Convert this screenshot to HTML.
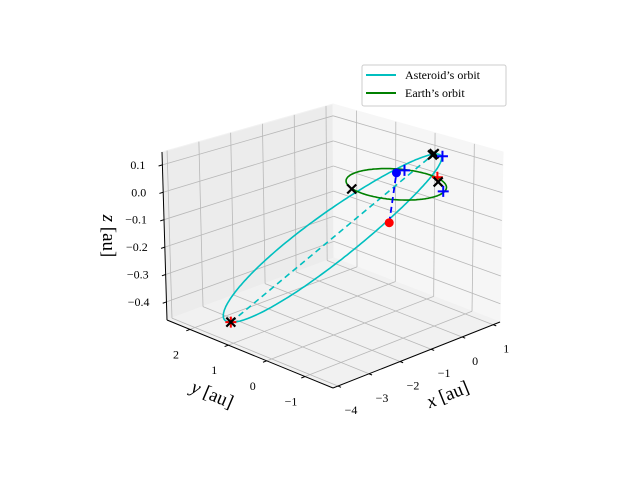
<!DOCTYPE html>
<html><head><meta charset="utf-8">
<style>
html,body{margin:0;padding:0;background:#fff;}
svg{display:block;font-family:"Liberation Serif","DejaVu Serif",serif;}
</style></head>
<body>
<svg id="chart" width="640" height="480" viewBox="0 0 640 480" xmlns="http://www.w3.org/2000/svg">
<g id="panes"></g>
<g id="grid"></g>
<g id="axes"></g>
<g id="series"></g>
<g id="labels"></g>
<text x="450" y="400" font-size="19" text-anchor="middle" transform="rotate(-22 450 400)"><tspan font-style="italic">x</tspan> [au]</text>
<text x="210" y="400" font-size="19" text-anchor="middle" transform="rotate(23 210 400)"><tspan font-style="italic">y</tspan> [au]</text>
<text x="103" y="236" font-size="19" text-anchor="middle" transform="rotate(90 103 236)"><tspan font-style="italic">z</tspan> [au]</text>
<g>
<rect x="362" y="65" width="144" height="41" rx="2" fill="#fff" fill-opacity="0.8" stroke="#ccc" stroke-width="1"/>
<line x1="366" y1="75" x2="396" y2="75" stroke="#00bfbf" stroke-width="2"/>
<text x="405" y="79" font-size="12">Asteroid’s orbit</text>
<line x1="366" y1="93" x2="396" y2="93" stroke="#008000" stroke-width="2"/>
<text x="405" y="97" font-size="12">Earth’s orbit</text>
</g>
</svg>
<script>
// axis ranges
const xRange = [-4.16, 1.22];
const yRange = [-1.73, 2.6];
const zRange = [-0.466, 0.147];
// tick values
const xTicks = [-4, -3, -2, -1, 0, 1];
const yTicks = [-1, 0, 1, 2];
const zTicks = [-0.4, -0.3, -0.2, -0.1, 0.0, 0.1];
const xTickLabels = ["−4", "−3", "−2", "−1", "0", "1"];
const yTickLabels = ["−1", "0", "1", "2"];
const zTickLabels = ["−0.4", "−0.3", "−0.2", "−0.1", "0.0", "0.1"];
// asteroid orbit elements
const astSemiMajor = [2.32];
const astEcc = [0.638];
const astPeriDir = [0.913, -0.392, 0.116];
const astMinorDir = [0.394, 0.919, -0.066];
// earth orbit
const earthRadius = [1.0];
// markers (3D positions)
const blackXPts = [[-3.47, 1.49, -0.44], [0.745, -0.32, 0.095], [0.78, -0.335, 0.099], [-0.942, 0.38, 0], [0.771, -0.45, 0]];
const redXPts = [[-3.47, 1.49, -0.44], [0.72, -0.47, 0.02]];
const bluePlusPts = [[0.9, -0.45, 0.09], [1.06, -0.35, -0.05], [0.83, 0.46, 0]];
const redDotPt = [0, 0.178, -0.15];
const blueDotPt = [0.58, 0.464, 0];

// box corners on screen: C[u][v][w]
const C = {
 "000":[333,388],"100":[500,322],"010":[167,320],"110":[334,258],
 "001":[333,204],"101":[503,152],"011":[162,152],"111":[333,104]
};
function P(x,y,z){
  const u=(x-xRange[0])/(xRange[1]-xRange[0]);
  const v=(y-yRange[0])/(yRange[1]-yRange[0]);
  const w=(z-zRange[0])/(zRange[1]-zRange[0]);
  let sx=0,sy=0;
  for(const a of [0,1])for(const b of [0,1])for(const c of [0,1]){
    const wt=(a?u:1-u)*(b?v:1-v)*(c?w:1-w);
    const p=C[""+a+b+c]; sx+=wt*p[0]; sy+=wt*p[1];
  }
  return [sx,sy];
}
const NS="http://www.w3.org/2000/svg";
function mk(parent,tag,attrs){const e=document.createElementNS(NS,tag);for(const k in attrs)e.setAttribute(k,attrs[k]);document.getElementById(parent).appendChild(e);return e;}
function poly(pts){return pts.map(p=>p[0].toFixed(1)+","+p[1].toFixed(1)).join(" ");}
const [x0,x1]=xRange,[y0,y1]=yRange,[z0,z1]=zRange;

let e;
e=mk("panes","polygon",{points:poly([P(x0,y1,z0),P(x1,y1,z0),P(x1,y1,z1),P(x0,y1,z1)]),fill:"#ececec",stroke:"#f2f2f2"});


e=mk("panes","polygon",{points:poly([P(x1,y0,z0),P(x1,y1,z0),P(x1,y1,z1),P(x1,y0,z1)]),fill:"#f6f6f6",stroke:"#f6f6f6"});


e=mk("panes","polygon",{points:poly([P(x0,y0,z0),P(x1,y0,z0),P(x1,y1,z0),P(x0,y1,z0)]),fill:"#f1f1f1",stroke:"#f1f1f1"});



function gl(a,b,name){const p=P(...a),q=P(...b);
  const l=mk("grid","line",{x1:p[0],y1:p[1],x2:q[0],y2:q[1],stroke:"#b8b8b8","stroke-width":0.8});
  
  }
xTicks.forEach(t=>{gl([t,y0,z0],[t,y1,z0],'x-grid-floor');gl([t,y1,z0],[t,y1,z1],'x-grid-wall');});
yTicks.forEach(t=>{gl([x0,t,z0],[x1,t,z0],'y-grid-floor');gl([x1,t,z0],[x1,t,z1],'y-grid-wall');});
zTicks.forEach(t=>{gl([x0,y1,t],[x1,y1,t],'z-grid-left');gl([x1,y1,t],[x1,y0,t],'z-grid-right');});

function al(a,b,name){const p=P(...a),q=P(...b);
  const l=mk("axes","line",{x1:p[0],y1:p[1],x2:q[0],y2:q[1],stroke:"#000","stroke-width":1});
  
  }
al([x0,y0,z0],[x1,y0,z0],'x-axis-line');
al([x0,y0,z0],[x0,y1,z0],'y-axis-line');
al([x0,y1,z0],[x0,y1,z1],'z-axis-line');

function lbl(p,txt,name,anchor){const t=mk("labels","text",{x:p[0].toFixed(1),y:p[1].toFixed(1),"font-size":12,"text-anchor":anchor||"middle"});t.textContent=txt;
  
  }
xTicks.forEach((t,i)=>{const p=P(t,y0,z0);
  al([t,y0,z0],[t,y0-0.08,z0],'x-tick');
  lbl([p[0]+13,p[1]+28],xTickLabels[i],'x-tick-label');});
yTicks.forEach((t,i)=>{const p=P(x0,t,z0);
  al([x0,t,z0],[x0-0.12,t,z0],'y-tick');
  lbl([p[0]-14,p[1]+29],yTickLabels[i],'y-tick-label');});
zTicks.forEach((t,i)=>{const p=P(x0,y1,t);
  al([x0,y1,t],[x0-0.12,y1,t],'z-tick');
  lbl([p[0]-17,p[1]+4],zTickLabels[i],'z-tick-label',"end");});

function norm(v){const n=Math.hypot(...v);return v.map(c=>c/n);}
const pd=norm(astPeriDir);
let qd=astMinorDir.slice();const dp=qd[0]*pd[0]+qd[1]*pd[1]+qd[2]*pd[2];
qd=norm(qd.map((c,i)=>c-dp*pd[i]));
const a=astSemiMajor[0],ec=astEcc[0],b=a*Math.sqrt(1-ec*ec);
let pts=[];
for(let k=0;k<=240;k++){const E=2*Math.PI*k/240;
  const c1=a*(Math.cos(E)-ec),c2=b*Math.sin(E);
  pts.push(P(c1*pd[0]+c2*qd[0],c1*pd[1]+c2*qd[1],c1*pd[2]+c2*qd[2]));}
e=mk("series","polyline",{points:poly(pts),fill:"none",stroke:"#00bfbf","stroke-width":1.6});


const peri=P(...pd.map(c=>c*a*(1-ec))),aph=P(...pd.map(c=>-c*a*(1+ec)));
e=mk("series","line",{x1:aph[0],y1:aph[1],x2:peri[0],y2:peri[1],stroke:"#00bfbf","stroke-width":1.6,"stroke-dasharray":"6,4"});


pts=[];
for(let k=0;k<=180;k++){const t=2*Math.PI*k/180;pts.push(P(earthRadius[0]*Math.cos(t),earthRadius[0]*Math.sin(t),0));}
e=mk("series","polyline",{points:poly(pts),fill:"none",stroke:"#008000","stroke-width":1.6});


const rd=P(...redDotPt),bd=P(...blueDotPt);
e=mk("series","line",{x1:rd[0],y1:rd[1],x2:bd[0],y2:bd[1],stroke:"#0000ff","stroke-width":1.8,"stroke-dasharray":"6,4"});


function xm(pt,col,name){const p=P(...pt),s=4.5;
  const g=mk("series","path",{d:`M${p[0]-s},${p[1]-s}L${p[0]+s},${p[1]+s}M${p[0]-s},${p[1]+s}L${p[0]+s},${p[1]-s}`,stroke:col,"stroke-width":2.2,fill:"none"});
  
  }
function pm(pt,col,name){const p=P(...pt),s=5.5;
  const g=mk("series","path",{d:`M${p[0]-s},${p[1]}L${p[0]+s},${p[1]}M${p[0]},${p[1]-s}L${p[0]},${p[1]+s}`,stroke:col,"stroke-width":2,fill:"none"});
  
  }
redXPts.forEach(pt=>pm(pt,"#ff0000",'red-marker'));
blackXPts.forEach(pt=>xm(pt,"#000",'black-x-marker'));
bluePlusPts.forEach(pt=>pm(pt,"#0000ff",'blue-plus-marker'));
e=mk("series","circle",{cx:rd[0],cy:rd[1],r:4.5,fill:"#ff0000"});


e=mk("series","circle",{cx:bd[0],cy:bd[1],r:4.5,fill:"#0000ff"});


</script>
</body></html>
